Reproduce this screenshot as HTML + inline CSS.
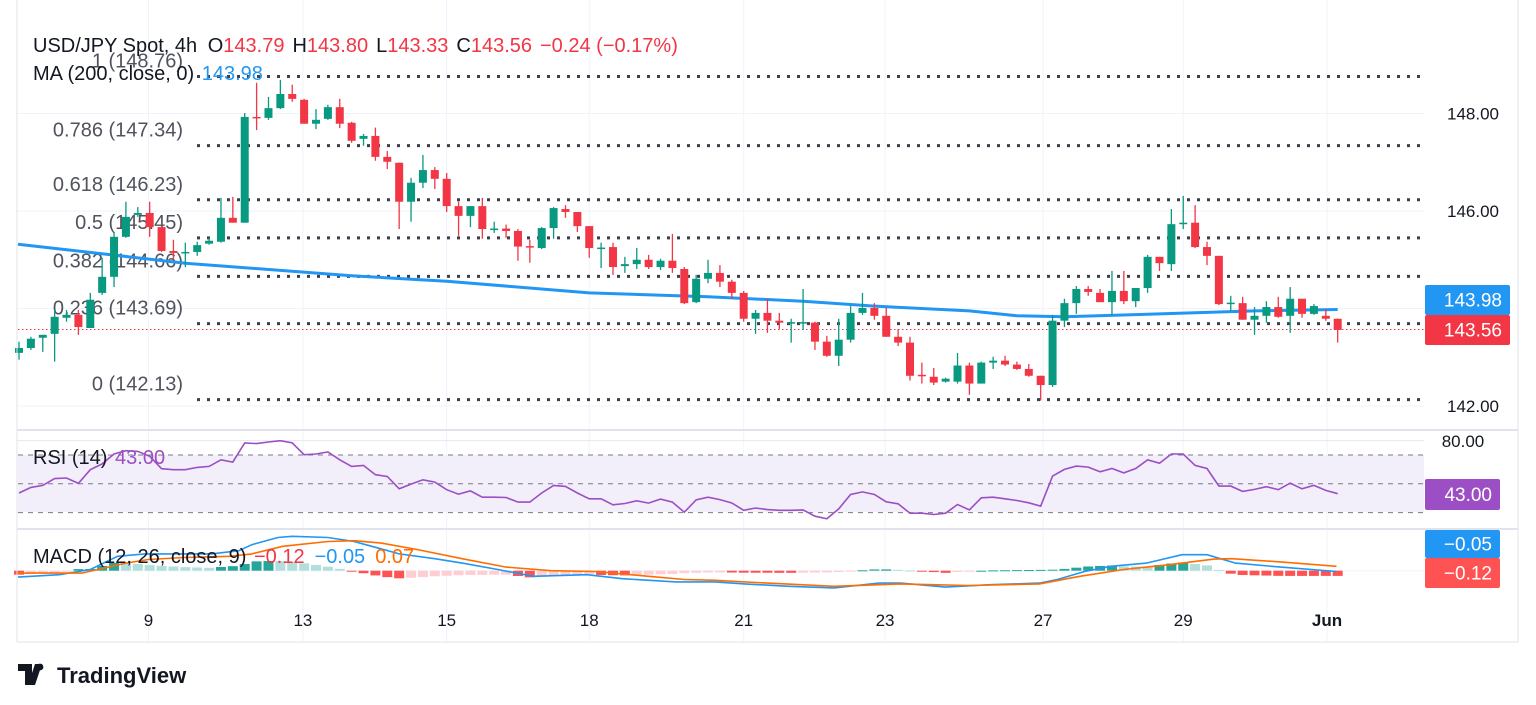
<!DOCTYPE html>
<html><head><meta charset="utf-8"><title>USD/JPY 4h chart</title>
<style>
html,body{margin:0;padding:0;background:#fff;}
svg{display:block;font-family:"Liberation Sans",Arial,sans-serif;}
</style></head>
<body>
<svg id="chart" width="1536" height="705" viewBox="0 0 1536 705" xmlns="http://www.w3.org/2000/svg">
  <rect x="0" y="0" width="1536" height="705" fill="#ffffff"/>
  <g id="grid"></g>
  <rect x="18" y="455" width="1406" height="57" fill="#f2eefa"/>
  <g id="rsiLevels"></g>
  <g id="fib"></g>
  <line x1="18" y1="329.5" x2="1424" y2="329.5" stroke="#f23645" stroke-width="1" stroke-dasharray="1.5 2.5"/>
  <g id="ma"></g>
  <g id="candles"></g>
  <g id="rsi"></g>
  <g id="macd"></g>
  <g id="xaxis"></g>
  <g id="yaxis"></g>

  <line x1="17" y1="430" x2="1518" y2="430" stroke="#e0e3eb" stroke-width="2"/>
  <line x1="17" y1="529" x2="1518" y2="529" stroke="#e0e3eb" stroke-width="2"/>
  <line x1="1518" y1="0" x2="1518" y2="642" stroke="#e0e3eb" stroke-width="1"/>
  <line x1="17" y1="0" x2="17" y2="642" stroke="#e0e3eb" stroke-width="1"/>
  <line x1="17" y1="642" x2="1518" y2="642" stroke="#e0e3eb" stroke-width="1"/>

  <text x="33" y="52" font-size="20" fill="#131722">USD/JPY Spot, 4h <tspan dx="5">O</tspan><tspan fill="#f23645">143.79</tspan><tspan dx="8">H</tspan><tspan fill="#f23645">143.80</tspan><tspan dx="8">L</tspan><tspan fill="#f23645">143.33</tspan><tspan dx="8">C</tspan><tspan fill="#f23645">143.56</tspan><tspan dx="8" fill="#f23645">−0.24 (−0.17%)</tspan></text>
  <text x="33" y="80" font-size="20" fill="#131722">MA (200, close, 0) <tspan fill="#2196f3" dx="2">143.98</tspan></text>
  <text x="33" y="464" font-size="20" fill="#131722">RSI (14) <tspan fill="#9c4fc4" dx="2">43.00</tspan></text>
  <text x="33" y="563" font-size="20" fill="#131722">MACD (12, 26, close, 9) <tspan fill="#f23645" dx="2">−0.12</tspan><tspan fill="#2196f3" dx="10">−0.05</tspan><tspan fill="#ff6d00" dx="10">0.07</tspan></text>

  <g>
    <path d="M18 664 h14 v21 h-7 v-14 h-7z M35 664 h7 l-7 21 h-7z" fill="#131722"/>
    <circle cx="40" cy="667" r="3.4" fill="#131722"/>
    <text x="57" y="683" font-size="22" font-weight="bold" fill="#131722">TradingView</text>
  </g>
</svg>
<script>
// ---------- data ----------
const openP  = [143.09,143.19,143.40,143.48,143.81,143.87,143.60,144.32,144.65,145.47,145.92,145.96,145.67,145.18,145.14,145.16,145.33,145.37,145.86,145.76,147.93,147.91,148.11,148.40,148.28,147.79,147.89,148.13,147.81,147.48,147.54,147.11,146.99,146.19,146.58,146.84,146.66,146.10,145.90,146.10,145.62,145.64,145.59,145.28,145.24,145.65,146.04,145.98,145.69,145.23,145.26,144.87,144.91,145.00,144.85,144.98,144.81,144.13,144.61,144.73,144.55,144.32,143.79,143.91,143.75,143.70,143.70,143.71,143.32,143.03,143.36,143.91,144.01,143.85,143.42,143.30,142.64,142.60,142.50,142.50,142.83,142.46,142.89,142.93,142.85,142.76,142.62,142.43,143.75,144.11,144.40,144.32,144.13,144.36,144.15,144.42,145.06,144.91,145.74,145.76,145.26,145.08,144.10,144.11,143.77,143.85,144.03,143.85,144.20,143.89,143.85,143.79];
const highP  = [143.32,143.42,143.46,143.97,143.97,143.97,144.32,145.04,145.57,146.19,146.08,146.19,145.69,145.41,145.35,145.37,145.45,146.27,146.29,148.01,148.63,148.34,148.69,148.59,148.30,148.09,148.18,148.30,147.83,147.58,147.71,147.23,146.99,146.68,147.15,146.90,146.78,146.19,146.10,146.27,145.78,145.72,145.63,145.41,145.67,146.08,146.12,145.98,145.69,145.35,145.35,145.06,145.24,145.10,145.02,145.53,144.85,144.69,145.00,144.89,144.59,144.36,143.97,144.20,143.91,143.79,144.40,143.73,143.44,143.79,144.05,144.32,144.11,144.01,143.58,143.42,142.89,142.78,142.58,143.09,142.89,142.91,143.01,143.03,142.91,142.86,142.62,143.87,144.20,144.46,144.46,144.40,144.77,144.77,144.42,145.10,145.06,146.04,146.31,146.12,145.37,145.08,144.26,144.24,144.03,144.15,144.24,144.44,144.20,144.09,143.99,143.79];
const lowP   = [142.95,143.15,143.11,142.91,143.73,143.46,143.60,144.28,144.44,145.45,145.88,145.47,145.16,145.00,144.85,145.08,145.31,145.35,145.76,145.76,147.66,147.87,148.09,148.24,147.79,147.68,147.87,147.70,147.40,147.34,147.03,146.86,145.63,145.78,146.47,146.45,145.98,145.49,145.67,145.43,145.55,145.45,144.98,144.94,145.22,145.43,145.86,145.57,145.04,144.83,144.69,144.73,144.81,144.81,144.79,144.73,144.09,144.11,144.52,144.44,144.20,143.73,143.48,143.50,143.58,143.30,143.56,143.15,143.01,142.82,143.30,143.87,143.77,143.42,143.23,142.52,142.46,142.43,142.48,142.46,142.23,142.46,142.76,142.82,142.74,142.60,142.11,142.39,143.62,143.89,144.26,144.13,143.87,144.09,144.03,144.32,144.77,144.77,145.63,145.24,144.89,144.07,143.95,143.77,143.46,143.71,143.81,143.50,143.81,143.87,143.75,143.30];
const closeP = [143.19,143.38,143.46,143.83,143.87,143.62,144.18,144.65,145.47,145.88,145.96,145.67,145.18,145.14,145.16,145.30,145.39,145.86,145.76,147.93,147.91,148.11,148.40,148.30,147.79,147.87,148.13,147.79,147.44,147.54,147.11,147.01,146.19,146.58,146.84,146.66,146.10,145.90,146.10,145.63,145.64,145.59,145.27,145.26,145.65,146.06,145.98,145.69,145.24,145.25,144.85,144.91,145.00,144.85,144.98,144.83,144.11,144.61,144.73,144.55,144.32,143.79,143.91,143.75,143.71,143.72,143.72,143.32,143.03,143.36,143.91,144.01,143.85,143.42,143.30,142.62,142.62,142.48,142.56,142.83,142.46,142.89,142.93,142.85,142.76,142.62,142.43,143.75,144.11,144.40,144.34,144.13,144.36,144.15,144.42,145.06,144.93,145.73,145.76,145.26,145.08,144.09,144.12,143.77,143.85,144.03,143.83,144.20,143.89,144.05,143.79,143.56];

const maIdx = [0,14,28,36,48,58,66,72,80,84,88,96,104,111];
const maVal = [145.32,144.93,144.67,144.56,144.32,144.24,144.15,144.05,143.95,143.85,143.83,143.89,143.95,143.98];

const rsiVal = [43.6,47.5,48.9,53.6,54.0,50.3,59.8,63.8,70.7,73.0,72.5,69.1,60.5,59.8,59.8,61.4,62.1,66.7,65.1,78.4,77.9,79.0,79.9,78.4,70.2,70.7,72.1,66.7,62.1,62.8,56.3,55.1,46.5,49.8,52.8,51.2,45.9,42.8,45.1,40.7,40.7,40.5,37.3,37.3,43.6,48.9,48.2,43.6,39.6,39.6,35.4,36.3,38.2,36.6,39.4,37.3,30.3,38.9,40.7,39.0,36.7,31.6,33.2,32.1,31.6,31.6,31.9,27.5,25.7,32.6,42.6,44.4,42.6,37.5,36.1,29.6,29.6,28.7,29.6,35.6,31.9,40.3,40.7,39.6,38.4,36.8,34.5,55.4,60.0,62.3,61.6,58.3,60.6,57.6,60.6,66.6,64.3,70.7,70.7,62.8,60.6,48.4,48.4,44.7,46.1,48.0,45.9,50.5,46.5,48.9,45.4,43.1];

const macdIdx = [0,3.4,6,8.3,10.6,16.2,18.5,19.6,21.8,23,26,28.2,29.7,32,35,37.3,40.3,43.3,47.8,50.8,55.3,58.6,61.1,64.8,68.6,72.4,74.2,78,81.8,85.9,87.4,89.7,91.9,94.9,97.9,100,102.4,106.2,110.9];
const macdVal = [-0.16,-0.10,0.03,0.36,0.42,0.42,0.50,0.65,0.83,0.86,0.83,0.73,0.61,0.42,0.30,0.19,0.03,-0.14,-0.10,-0.20,-0.28,-0.28,-0.33,-0.39,-0.43,-0.31,-0.31,-0.41,-0.35,-0.31,-0.22,-0.02,0.11,0.19,0.40,0.40,0.19,0.09,-0.02];
const sigIdx = [0,5.3,9,10.9,13.9,17.7,19.6,22.2,26,28.2,30.5,33.5,37.3,41,44.8,48.5,53,56,58.6,63,68.6,74.2,79.9,85.9,89.3,93,96.8,100.6,102.1,106.2,110.9];
const sigVal = [-0.06,-0.06,0.19,0.28,0.33,0.36,0.42,0.61,0.73,0.75,0.69,0.53,0.30,0.09,0.00,-0.02,-0.14,-0.22,-0.24,-0.31,-0.39,-0.33,-0.37,-0.33,-0.14,0.03,0.15,0.29,0.30,0.22,0.11];

const dateLabels = ["9","13","15","18","21","23","27","29","Jun"];
const dateIdx = [10.9,23.9,36,48,61,72.9,86.2,98,110.1];
const priceTicks = [148,146,144,142];
const priceTickLabels = ["148.00","146.00","","142.00"];
const fibRatio = ["1","0.786","0.618","0.5","0.382","0.236","0"];
const fibPrice = [148.76,147.34,146.23,145.45,144.66,143.69,142.13];
const rsiLevels = [70,50,30];

// ---------- scales ----------
const NS = "http://www.w3.org/2000/svg";
const X0 = 19, STEP = 11.88;
const xS = i => X0 + STEP * i;
const yP = p => 308.5 - (p - 144) * 48.75;
const yR = v => 455 + (70 - v) * 1.44;
const yM = v => 570.7 - v * 40;
function mk(tag, attrs, parent){const e=document.createElementNS(NS,tag);for(const k in attrs)e.setAttribute(k,attrs[k]);parent.appendChild(e);return e;}
function interp(ix, vals, i){
  if(i<=ix[0])return vals[0];
  for(let k=1;k<ix.length;k++){if(i<=ix[k]){const t=(i-ix[k-1])/(ix[k]-ix[k-1]);return vals[k-1]+t*(vals[k]-vals[k-1]);}}
  return vals[vals.length-1];
}
const GREEN="#089981", RED="#f23645";

// grid
const grid=document.getElementById('grid');
dateIdx.forEach(d=>{
  const l=mk('line',{x1:xS(d),x2:xS(d),y1:0,y2:642,stroke:'#f0f3fa','stroke-width':1},grid);
  
  
});
priceTicks.forEach(p=>{
  const l=mk('line',{x1:17,x2:1424,y1:yP(p),y2:yP(p),stroke:'#f0f3fa','stroke-width':1},grid);
  
  
});
[80,40].forEach(v=>{
  const l=mk('line',{x1:17,x2:1424,y1:yR(v),y2:yR(v),stroke:'#e8e6f0','stroke-width':1},grid);
  
  
});
{
  const l=mk('line',{x1:17,x2:1424,y1:yM(0),y2:yM(0),stroke:'#f0f3fa','stroke-width':1},grid);
  
  
}

// rsi levels
const rl=document.getElementById('rsiLevels');
rsiLevels.forEach(v=>{
  const l=mk('line',{x1:18,x2:1424,y1:yR(v),y2:yR(v),stroke:'#787b86','stroke-width':1,'stroke-dasharray':'5 5'},rl);
  
  
});

// fib
const fib=document.getElementById('fib');
fibPrice.forEach((p,k)=>{
  const y=yP(p);
  const l=mk('line',{x1:197,x2:1424,y1:y,y2:y,stroke:'#3c3f4a','stroke-width':3,'stroke-dasharray':'3 7'},fib);
  
  
  const t=mk('text',{x:183,y:y-9,'text-anchor':'end','font-size':20,fill:'#50535e'},fib);
  t.textContent=fibRatio[k]+' ('+p.toFixed(2)+')';
  
  
});

// MA
const ma=document.getElementById('ma');
{
  let d='';
  maIdx.forEach((i,k)=>{d+=(k?'L':'M')+(i===0?18:xS(i)).toFixed(1)+' '+yP(maVal[k]).toFixed(1);});
  const p=mk('path',{d:d,fill:'none',stroke:'#2196f3','stroke-width':3,'stroke-linejoin':'round'},ma);
  
  
}

// candles
const cg=document.getElementById('candles');
openP.forEach((o,i)=>{
  const c=closeP[i], up=c>=o, col=up?GREEN:RED, x=xS(i);
  const g=mk('g',{},cg);
  
  
  mk('line',{x1:x,x2:x,y1:yP(highP[i]),y2:yP(lowP[i]),stroke:col,'stroke-width':1.3},g);
  const top=yP(Math.max(o,c)), bot=yP(Math.min(o,c));
  mk('rect',{x:x-4,y:top,width:8,height:Math.max(1.5,bot-top),fill:col},g);
});

// RSI
const rg=document.getElementById('rsi');
{
  let d='';
  rsiVal.forEach((v,i)=>{d+=(i?'L':'M')+xS(i).toFixed(1)+' '+yR(v).toFixed(1);});
  const p=mk('path',{d:d,fill:'none',stroke:'#9c4fc4','stroke-width':1.6},rg);
  
  
}

// MACD
const mg=document.getElementById('macd');
{
  const n=openP.length; let prev=null;
  for(let i=0;i<n;i++){
    const h=interp(macdIdx,macdVal,i)-interp(sigIdx,sigVal,i);
    let col;
    if(h>=0) col=(prev===null||h>=prev)?'#26a69a':'#b2dfdb';
    else col=(prev===null||h<=prev)?'#ff5252':'#ffcdd2';
    prev=h;
    const y0=yM(0), y1=yM(h);
    const r=mk('rect',{x:xS(i)-5,y:Math.min(y0,y1),width:10,height:Math.max(1,Math.abs(y1-y0)),fill:col},mg);
    
    
  }
  let d='';
  macdIdx.forEach((i,k)=>{d+=(k?'L':'M')+(i===0?18:xS(i)).toFixed(1)+' '+yM(macdVal[k]).toFixed(1);});
  const p=mk('path',{d:d,fill:'none',stroke:'#2196f3','stroke-width':1.6},mg);
  
  
  let d2='';
  sigIdx.forEach((i,k)=>{d2+=(k?'L':'M')+(i===0?18:xS(i)).toFixed(1)+' '+yM(sigVal[k]).toFixed(1);});
  const p2=mk('path',{d:d2,fill:'none',stroke:'#ff6d00','stroke-width':1.6},mg);
  
  
}

// x axis
const xa=document.getElementById('xaxis');
dateLabels.forEach((s,k)=>{
  const t=mk('text',{x:xS(dateIdx[k]),y:626,'text-anchor':'middle','font-size':17,fill:'#131722','font-weight':s==='Jun'?'bold':'normal'},xa);
  t.textContent=s;
  
  
});

// y axis
const ya=document.getElementById('yaxis');
priceTicks.forEach((p,k)=>{
  if(!priceTickLabels[k])return;
  const t=mk('text',{x:1473,y:yP(p)+6,'text-anchor':'middle','font-size':17,fill:'#131722'},ya);
  t.textContent=priceTickLabels[k];
  
  
});
{
  const t=mk('text',{x:1463,y:447,'text-anchor':'middle','font-size':17,fill:'#131722'},ya);
  t.textContent='80.00';
  
  
}
function badge(y,h,w,col,txt,name){
  const g=mk('g',{},ya);
  
  
  mk('rect',{x:1425,y:y,width:w,height:h,rx:2,fill:col},g);
  const t=mk('text',{x:1425+w-8,y:y+h/2+6.5,'text-anchor':'end','font-size':19,fill:'#ffffff'},g);
  t.textContent=txt;
}
badge(285,30,85,'#2196f3','143.98','ma-price-badge');
badge(315,30,85,'#f23645','143.56','last-price-badge');
badge(479,31,75,'#9c4fc4','43.00','rsi-value-badge');
badge(530,28,75,'#2196f3','−0.05','macd-value-badge');
badge(558,30,75,'#ff5252','−0.12','histogram-value-badge');
</script>
</body></html>
